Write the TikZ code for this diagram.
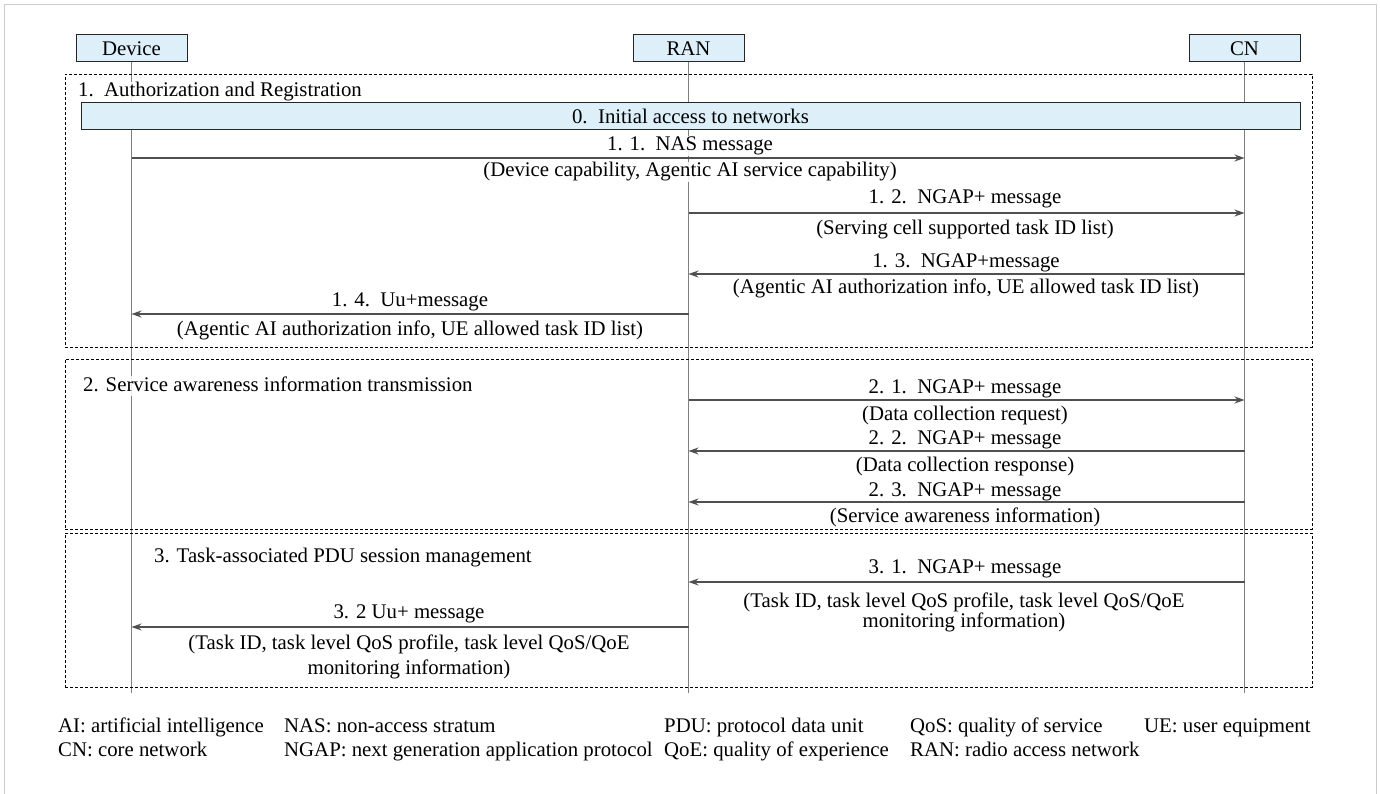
\documentclass[tikz,border=0pt]{standalone}
\usepackage{fontspec}
\setmainfont{Liberation Serif}
\usetikzlibrary{arrows.meta}
\definecolor{boxblue}{HTML}{DDEFF9}
\definecolor{lifegray}{HTML}{808080}
\definecolor{arrgray}{HTML}{505050}
\definecolor{framegray}{HTML}{CCCCCC}
\tikzset{
  ent/.style={draw=black!85, fill=boxblue, line width=1pt, minimum width=111pt, minimum height=27pt, inner sep=0pt, font=\fontsize{20.8}{24}\selectfont},
  life/.style={draw=lifegray, line width=1.4pt},
  msg/.style={draw=arrgray, line width=1.3pt, -{Stealth[length=10pt,width=7pt]}},
  lbl/.style={font=\fontsize{20.8}{24}\selectfont, fill=white, fill opacity=0.85, text opacity=1, inner sep=1pt, text height=14pt, text depth=4pt},
  grp/.style={draw=black, line width=0.9pt, dash pattern=on 3pt off 2pt},
  leg/.style={font=\fontsize{20.8}{25}\selectfont, anchor=west, inner sep=0pt, text height=14pt, text depth=4pt},
}
\begin{document}
\begin{tikzpicture}[x=1pt,y=-1pt]
\useasboundingbox (0,0) rectangle (1380,794);
\draw[framegray, line width=1pt] (4.5,820) -- (4.5,5) -- (1376.5,5) -- (1376.5,820);
% entities
\node[ent] (dev) at (131.5,48.5) {Device};
\node[ent] (ran) at (688.5,48.5) {RAN};
\node[ent] (cn) at (1244.5,48.5) {CN};
\coordinate (bot) at (0,693);
\draw[life] (dev.south) -- (dev |- bot);
\draw[life] (ran.south) -- (ran |- bot);
\draw[life] (cn.south) -- (cn |- bot);
% group boxes
\node[grp, minimum width=1247pt, minimum height=273pt, inner sep=0pt] (g1) at (688.5,210.5) {};
\node[grp, minimum width=1247pt, minimum height=170pt, inner sep=0pt] (g2) at (688.5,444) {};
\node[grp, minimum width=1247pt, minimum height=154pt, inner sep=0pt] (g3) at (688.5,610) {};
\node[lbl, anchor=west] (t1) at (77,92) {1.\ \ Authorization and Registration};
\node[ent, minimum width=1219pt, minimum height=27pt] (init) at (690.5,116.5) {0.\ \ Initial access to networks};
% 1.1
\coordinate (y11) at (0,158);
\draw[msg] (dev |- y11) -- (cn |- y11);
\node[lbl] (l11a) at (690,146) {1. 1.\ \ NAS message};
\node[lbl] (l11b) at (690,172) {(Device capability, Agentic AI service capability)};
% 1.2
\coordinate (y12) at (0,213);
\draw[msg] (ran |- y12) -- (cn |- y12);
\node[lbl] (l12a) at (965,199) {1. 2.\ \ NGAP+ message};
\node[lbl] (l12b) at (965,230) {(Serving cell supported task ID list)};
% 1.3
\coordinate (y13) at (0,274);
\draw[msg] (cn |- y13) -- (ran |- y13);
\node[lbl] (l13a) at (966,262) {1. 3.\ \ NGAP+message};
\node[lbl] (l13b) at (966,288) {(Agentic AI authorization info, UE allowed task ID list)};
% 1.4
\coordinate (y14) at (0,314);
\draw[msg] (ran |- y14) -- (dev |- y14);
\node[lbl] (l14a) at (410,301) {1. 4.\ \ Uu+message};
\node[lbl] (l14b) at (410,330) {(Agentic AI authorization info, UE allowed task ID list)};
% 2
\node[lbl, anchor=west] (t2) at (82,386) {2. Service awareness information transmission};
\coordinate (y21) at (0,400);
\draw[msg] (ran |- y21) -- (cn |- y21);
\node[lbl] (l21a) at (965,388) {2. 1.\ \ NGAP+ message};
\node[lbl] (l21b) at (965,415) {(Data collection request)};
\coordinate (y22) at (0,451);
\draw[msg] (cn |- y22) -- (ran |- y22);
\node[lbl] (l22a) at (965,439) {2. 2.\ \ NGAP+ message};
\node[lbl] (l22b) at (965,466) {(Data collection response)};
\coordinate (y23) at (0,502);
\draw[msg] (cn |- y23) -- (ran |- y23);
\node[lbl] (l23a) at (965,491) {2. 3.\ \ NGAP+ message};
\node[lbl] (l23b) at (965,517) {(Service awareness information)};
% 3
\node[lbl, anchor=west] (t3) at (153,557) {3. Task-associated PDU session management};
\coordinate (y31) at (0,582);
\draw[msg] (cn |- y31) -- (ran |- y31);
\node[lbl] (l31a) at (965,568) {3. 1.\ \ NGAP+ message};
\node[lbl, align=center, font=\fontsize{20.8}{19}\selectfont, text height=, text depth=] (l31b) at (964,612) {(Task ID, task level QoS profile, task level QoS/QoE\\monitoring information)};
\coordinate (y32) at (0,627);
\draw[msg] (ran |- y32) -- (dev |- y32);
\node[lbl] (l32a) at (409,613) {3. 2 Uu+ message};
\node[lbl, align=center, font=\fontsize{20.8}{25}\selectfont, text height=, text depth=] (l32b) at (409,657) {(Task ID, task level QoS profile, task level QoS/QoE\\monitoring information)};
% legend
\node[leg] (a1) at (58,727) {AI: artificial intelligence};
\node[leg] (a2) at (58,751) {CN: core network};
\node[leg] (b1) at (284,727) {NAS: non-access stratum};
\node[leg] (b2) at (284,751) {NGAP: next generation application protocol};
\node[leg] (c1) at (664,727) {PDU: protocol data unit};
\node[leg] (c2) at (664,751) {QoE: quality of experience};
\node[leg] (d1) at (910,727) {QoS: quality of service};
\node[leg] (d2) at (910,751) {RAN: radio access network};
\node[leg] (e1) at (1144,727) {UE: user equipment};
\end{tikzpicture}
\end{document}
